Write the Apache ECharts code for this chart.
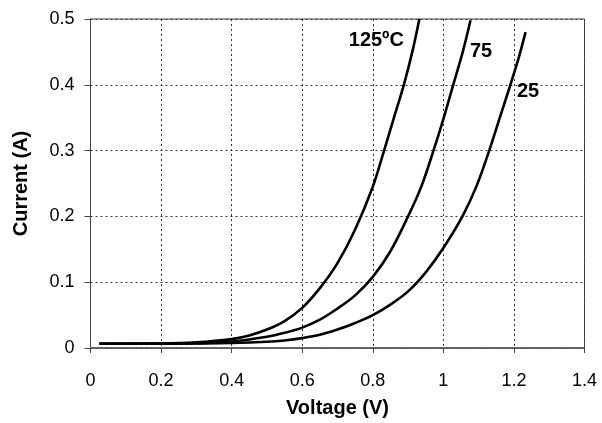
<!DOCTYPE html>
<html>
<head>
<meta charset="utf-8">
<script src="https://cdn.jsdelivr.net/npm/echarts@6/dist/echarts.min.js"></script>
<style>
html,body{margin:0;padding:0;background:#fff;}
#chart{width:602px;height:423px;}
</style>
</head>
<body>
<div id="chart"></div>
<script>
// Voltage (V), Current (A) pairs
var curve125 = [[0.025,0.0065],[0.2,0.0068],[0.3,0.0085],[0.4,0.0135],[0.45,0.019],[0.5,0.028],[0.55,0.041],[0.6,0.061],[0.65,0.091],[0.7,0.129],[0.75,0.18],[0.8,0.245],[0.832,0.3],[0.86,0.35],[0.888,0.4],[0.912,0.45],[0.932,0.5]];
var curve75 = [[0.025,0.0065],[0.2,0.0066],[0.3,0.0072],[0.4,0.0098],[0.5,0.017],[0.55,0.023],[0.6,0.031],[0.65,0.043],[0.7,0.06],[0.75,0.08],[0.8,0.108],[0.85,0.147],[0.9,0.2],[0.938,0.246],[0.972,0.3],[1.0,0.348],[1.028,0.4],[1.055,0.45],[1.077,0.498]];
var curve25 = [[0.025,0.0065],[0.2,0.0065],[0.3,0.0068],[0.4,0.0075],[0.5,0.0095],[0.55,0.0115],[0.6,0.015],[0.65,0.02],[0.7,0.028],[0.75,0.038],[0.8,0.05],[0.85,0.066],[0.9,0.086],[0.95,0.115],[1.0,0.152],[1.054,0.2],[1.094,0.246],[1.13,0.3],[1.16,0.35],[1.19,0.4],[1.213,0.44],[1.233,0.48]];
var curveLabels = ['125ºC', '75', '25'];
var labelAnchors = [[0.81,0.468],[1.107,0.451],[1.240,0.390]];
var xTicks = [0, 0.2, 0.4, 0.6, 0.8, 1, 1.2, 1.4];
var yTicks = [0, 0.1, 0.2, 0.3, 0.4, 0.5];

var FONT = '"Liberation Sans", Arial, sans-serif';
var chart = echarts.init(document.getElementById('chart'), null, {renderer:'canvas'});

function lineSeries(d){
  return {type:'line', data:d, smooth:0.35, showSymbol:false, symbol:'none',
    lineStyle:{color:'#000', width:2.6}, clip:true, z:5};
}

var labelData = labelAnchors.map(function(p, i){ return {value:p, name:curveLabels[i]}; });

var option = {
  backgroundColor:'#fff',
  animation:false,
  grid:{left:90.5, right:17.5, top:19, bottom:73, show:true, borderColor:'#444', borderWidth:1},
  xAxis:{
    type:'value', min:xTicks[0], max:xTicks[xTicks.length-1], interval:0.2,
    name:'Voltage (V)', nameLocation:'middle', nameGap:50,
    nameTextStyle:{fontFamily:FONT, fontWeight:'bold', fontSize:20, color:'#000'},
    axisLine:{show:true, onZero:false, lineStyle:{color:'#555', width:1.5}},
    axisTick:{show:true, inside:false, length:5, lineStyle:{color:'#444'}},
    axisLabel:{fontFamily:FONT, fontSize:18, color:'#000', margin:24},
    splitLine:{show:true, lineStyle:{color:'#333', type:[2,3], width:1}}
  },
  yAxis:{
    type:'value', min:yTicks[0], max:yTicks[yTicks.length-1], interval:0.1,
    name:'Current (A)', nameLocation:'middle', nameGap:59,
    nameTextStyle:{fontFamily:FONT, fontWeight:'bold', fontSize:20, color:'#000'},
    axisLine:{show:true, onZero:false, lineStyle:{color:'#444', width:1}},
    axisTick:{show:true, inside:false, length:6, lineStyle:{color:'#444'}},
    axisLabel:{fontFamily:FONT, fontSize:18, color:'#000', margin:16},
    splitLine:{show:true, lineStyle:{color:'#333', type:[2,3], width:1}}
  },
  series:[
    lineSeries(curve125),
    lineSeries(curve75),
    lineSeries(curve25),
    {type:'scatter', data:labelData, symbolSize:0, z:6, itemStyle:{opacity:1},
      label:{show:true, position:'inside', formatter:function(p){return p.name;},
        fontFamily:FONT, fontWeight:'bold', fontSize:20, color:'#000', opacity:1}}
  ]
};
chart.setOption(option);
</script>
</body>
</html>
